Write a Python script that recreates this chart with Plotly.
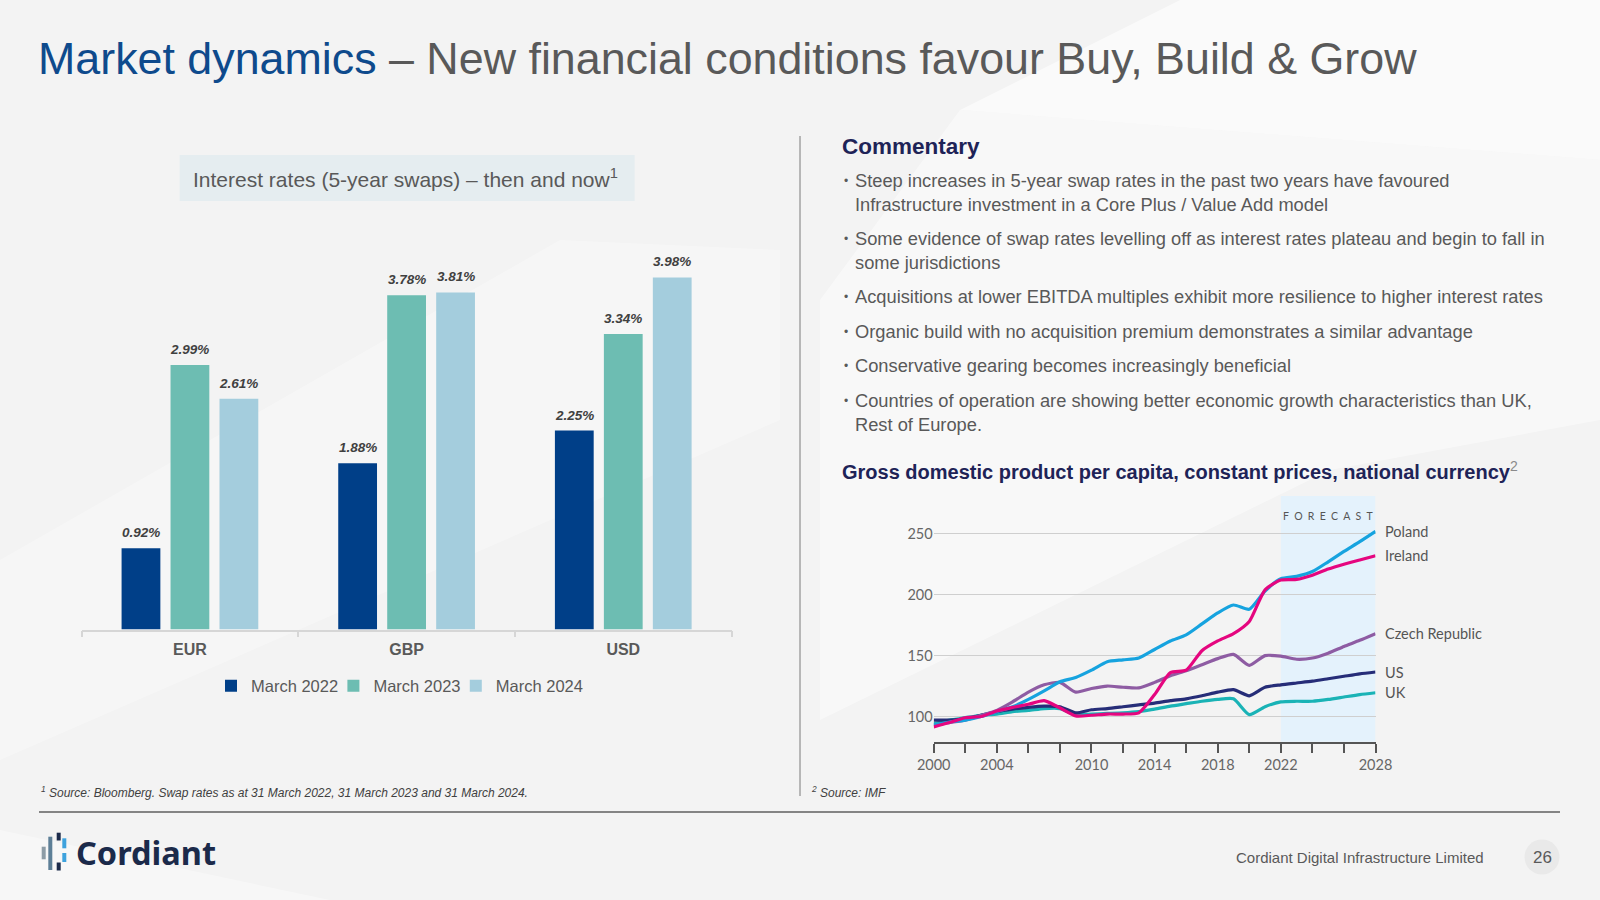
import plotly.graph_objects as go

# ---------------- data ----------------
currencies = ["EUR", "GBP", "USD"]
bar_series = ["March 2022", "March 2023", "March 2024"]
rate_mar_2022 = [0.92, 1.88, 2.25]
rate_mar_2023 = [2.99, 3.78, 3.34]
rate_mar_2024 = [2.61, 3.81, 3.98]

years = list(range(2000, 2029))
gdp_poland = [93, 95.5, 97, 100, 104, 108, 114, 121, 128.5, 132, 138, 145, 146.5, 148, 155, 162,
              167, 176, 185, 191.5, 188, 203, 213, 215, 219, 227, 235.5, 243.5, 252]
gdp_ireland = [91.5, 95, 99, 100, 104.5, 107.5, 110, 113, 107, 100.5, 101, 102, 102, 103, 118, 136,
               138, 154, 162, 168, 178, 204, 212, 212.5, 216, 221, 225, 228.5, 232]
gdp_czech = [93, 95, 97, 101, 105, 112, 120, 126, 128, 120, 123, 125, 124, 123.5, 128, 133.5,
             137.5, 142.5, 147.5, 151, 142, 150, 149.5, 147, 148, 152, 157.5, 162.5, 168]
gdp_us = [97, 97, 98, 101, 104, 106, 107.5, 108.5, 108, 103, 105.5, 106.5, 108, 109.5, 111, 113,
          114.5, 117, 120, 122, 117, 124, 126, 127.5, 129, 131, 133, 135, 136.5]
gdp_uk = [94, 97, 99, 101, 102, 104, 105, 106.5, 106.5, 101.5, 102, 102.5, 103, 104, 106, 108.5,
          110.5, 112.5, 114, 114.5, 101.5, 108, 112, 112.5, 112.5, 114, 116, 118, 119.5]
gdp_names = ["UK", "US", "Czech Republic", "Poland", "Ireland"]
gdp_values = [gdp_uk, gdp_us, gdp_czech, gdp_poland, gdp_ireland]
forecast_start, forecast_end = 2022, 2028
x_labelled_years = [2000, 2004, 2010, 2014, 2018, 2022, 2028]
x_minor_step = 2
y_ticks = [100, 150, 200, 250]

bullets = [
    "Steep increases in 5-year swap rates in the past two years have favoured<br>Infrastructure investment in a Core Plus / Value Add model",
    "Some evidence of swap rates levelling off as interest rates plateau and begin to fall in<br>some jurisdictions",
    "Acquisitions at lower EBITDA multiples exhibit more resilience to higher interest rates",
    "Organic build with no acquisition premium demonstrates a similar advantage",
    "Conservative gearing becomes increasingly beneficial",
    "Countries of operation are showing better economic growth characteristics than UK,<br>Rest of Europe.",
]

# ---------------- style ----------------
W, H = 1600, 900
bar_colors = ["#003f88", "#6dbdb2", "#a4cddd"]
line_colors = {"Poland": "#16a3df", "Ireland": "#e5067f", "Czech Republic": "#8e5ca3",
               "US": "#262d78", "UK": "#1ab3b6"}
GRAY = "#595959"
ARIAL = "Liberation Sans, Arial, sans-serif"
GEO = "Lato, Noto Sans, sans-serif"
BARGAP, BARGROUPGAP = 0.322, 0.208
BAR_X0, BAR_X1 = 81.6, 731.6   # bar plot area, px
LEGEND_IDS = ["legend", "legend2", "legend3"]
LEGEND_X = [211, 333.4, 455.8]  # left edge of each legend entry, px


def px(x):
    return x / W


def py(y):
    return 1 - y / H


fig = go.Figure()

bar_sets = [rate_mar_2022, rate_mar_2023, rate_mar_2024]
for name, vals, col, lid in zip(bar_series, bar_sets, bar_colors, LEGEND_IDS):
    fig.add_trace(go.Bar(
        x=currencies, y=vals, name=name, marker=dict(color=col, line=dict(width=0)),
        xaxis="x", yaxis="y", hoverinfo="skip", legend=lid,
    ))

for name, vals in zip(gdp_names, gdp_values):
    fig.add_trace(go.Scatter(
        x=years, y=vals, mode="lines", name=name, showlegend=False,
        line=dict(color=line_colors[name], width=3.2, shape="spline", smoothing=0.6),
        xaxis="x2", yaxis="y2", hoverinfo="skip",
    ))

shapes = []
# subtle background facets
shapes += [
    dict(type="path", xref="paper", yref="paper", layer="below", line=dict(width=0),
         fillcolor="rgba(255,255,255,0.55)",
         path=f"M {px(1180)},{py(0)} L {px(1600)},{py(0)} L {px(1600)},{py(160)} L {px(960)},{py(110)} Z"),
    dict(type="path", xref="paper", yref="paper", layer="below", line=dict(width=0),
         fillcolor="rgba(255,255,255,0.45)",
         path=f"M {px(820)},{py(720)} L {px(1330)},{py(470)} L {px(1600)},{py(420)} L {px(1600)},{py(160)} L {px(960)},{py(110)} L {px(820)},{py(300)} Z"),
    dict(type="path", xref="paper", yref="paper", layer="below", line=dict(width=0),
         fillcolor="rgba(255,255,255,0.3)",
         path=f"M {px(0)},{py(560)} L {px(560)},{py(240)} L {px(780)},{py(250)} L {px(780)},{py(420)} L {px(0)},{py(760)} Z"),
    dict(type="path", xref="paper", yref="paper", layer="below", line=dict(width=0),
         fillcolor="rgba(255,255,255,0.35)",
         path=f"M {px(0)},{py(830)} L {px(330)},{py(900)} L {px(0)},{py(900)} Z"),
]
# chart title box (bar chart)
shapes.append(dict(type="rect", xref="paper", yref="paper", layer="below",
                   x0=px(179.6), x1=px(634.7), y0=py(155), y1=py(201),
                   fillcolor="#e5edf0", line=dict(width=0)))
# forecast band
shapes.append(dict(type="rect", xref="x2", yref="y2 domain", layer="below",
                   x0=forecast_start, x1=forecast_end, y0=0, y1=1,
                   fillcolor="#e4f2fc", line=dict(width=0)))
# divider and footer rule
shapes.append(dict(type="line", xref="paper", yref="paper", x0=px(800), x1=px(800),
                   y0=py(136), y1=py(796), line=dict(color="#7a7a7a", width=1)))
shapes.append(dict(type="line", xref="paper", yref="paper", x0=px(39), x1=px(1560),
                   y0=py(812), y1=py(812), line=dict(color="#5f5f5f", width=1.5)))
# page number circle
shapes.append(dict(type="circle", xref="paper", yref="paper", x0=px(1524.5), x1=px(1559.5),
                   y0=py(874.5), y1=py(839.5), fillcolor="#e9e9e9", line=dict(width=0)))
# logo mark
for (x0, x1, y0, y1, c) in [
    (41.7, 45.7, 846.7, 859.3, "#8d9ca6"),
    (48.3, 52.3, 836.7, 870.0, "#5d7f97"),
    (56.7, 60.7, 832.7, 840.5, "#1b2a4a"),
    (56.7, 60.7, 862.5, 870.5, "#1b2a4a"),
    (62.3, 66.3, 838.3, 848.3, "#3ea2dd"),
    (62.3, 66.3, 853.0, 862.0, "#3ea2dd"),
]:
    shapes.append(dict(type="rect", xref="paper", yref="paper", x0=px(x0), x1=px(x1),
                       y0=py(y1), y1=py(y0), fillcolor=c, line=dict(width=0), layer="above"))

ann = []
# bar value labels: placed at each bar's value, offset to its slot in the group
cat_px = (BAR_X1 - BAR_X0) / len(currencies)
slot_px = cat_px * (1 - BARGAP) / len(bar_series)
for k, vals in enumerate(bar_sets):
    for cat, v in zip(currencies, vals):
        ann.append(dict(xref="x", yref="y", x=cat, y=v, xanchor="center", yanchor="bottom",
                        xshift=(k - (len(bar_series) - 1) / 2) * slot_px, yshift=6, showarrow=False,
                        font=dict(family=ARIAL, size=13.5, color="#404040", style="italic",
                                  weight="bold"),
                        text=f"{v:.2f}%"))
# main title
ann.append(dict(xref="paper", yref="paper", x=px(36), y=py(58), xanchor="left", yanchor="middle",
                showarrow=False, font=dict(family=ARIAL, size=44.8, color=GRAY),
                text="<span style='color:#0e4a8c'>Market dynamics</span> – New financial conditions favour Buy, Build & Grow"))
ann.append(dict(xref="paper", yref="paper", x=px(405), y=py(178), xanchor="center", yanchor="middle",
                showarrow=False, font=dict(family=ARIAL, size=21, color=GRAY),
                text="Interest rates (5-year swaps) – then and now<sup>1</sup>"))
ann.append(dict(xref="paper", yref="paper", x=px(840), y=py(146), xanchor="left", yanchor="middle",
                showarrow=False, font=dict(family=ARIAL, size=22.5, color="#1e2357", weight="bold"),
                text="Commentary"))
first_line_y = [180.6, 238.8, 297, 331.6, 366.3, 401]
bsize = 18.3
for txt, yc in zip(bullets, first_line_y):
    ann.append(dict(xref="paper", yref="paper", x=px(853), y=py(yc - 0.65 * bsize - 1),
                    xanchor="left", yanchor="top", align="left", showarrow=False,
                    font=dict(family=ARIAL, size=bsize, color=GRAY), text=txt))
    ann.append(dict(xref="paper", yref="paper", x=px(846), y=py(yc), xanchor="center", yanchor="middle",
                    showarrow=False, font=dict(family=ARIAL, size=12, color=GRAY), text="•"))
ann.append(dict(xref="paper", yref="paper", x=px(840), y=py(470.5), xanchor="left", yanchor="middle",
                showarrow=False, font=dict(family=ARIAL, size=20, color="#1e2357"),
                text="<b>Gross domestic product per capita, constant prices, national currency</b>"
                     "<sup><span style='color:#8a8a8a'>2</span></sup>"))
# forecast label
ann.append(dict(xref="x2", yref="paper", x=(forecast_start + forecast_end) / 2, y=py(516),
                xanchor="center", yanchor="middle", showarrow=False,
                font=dict(family=GEO, size=10.5, color="#555555"),
                text="\u2002".join("FORECAST")))
# series end labels
for name, vals in zip(gdp_names, gdp_values):
    ann.append(dict(xref="x2", yref="y2", x=years[-1], y=vals[-1], xanchor="left", yanchor="middle",
                    xshift=7, showarrow=False, font=dict(family=GEO, size=14.5, color="#555555"),
                    text=name))
# footnotes
ann.append(dict(xref="paper", yref="paper", x=px(39), y=py(792), xanchor="left", yanchor="middle",
                showarrow=False, font=dict(family=ARIAL, size=12, color="#404040"),
                text="<i><sup>1</sup> Source: Bloomberg. Swap rates as at 31 March 2022, 31 March 2023 and 31 March 2024.</i>"))
ann.append(dict(xref="paper", yref="paper", x=px(809), y=py(792), xanchor="left", yanchor="middle",
                showarrow=False, font=dict(family=ARIAL, size=12, color="#404040"),
                text="<i><sup>2</sup> Source: IMF</i>"))
# footer
ann.append(dict(xref="paper", yref="paper", x=px(74), y=py(852), xanchor="left", yanchor="middle",
                showarrow=False, font=dict(family="Noto Sans, Lato, sans-serif", size=32.5,
                                           color="#1b2a4a", weight="bold"),
                text="Cordiant"))
ann.append(dict(xref="paper", yref="paper", x=px(1486), y=py(857), xanchor="right", yanchor="middle",
                showarrow=False, font=dict(family=ARIAL, size=15, color=GRAY),
                text="Cordiant Digital Infrastructure Limited"))
ann.append(dict(xref="paper", yref="paper", x=px(1542), y=py(857), xanchor="center", yanchor="middle",
                showarrow=False, font=dict(family=ARIAL, size=17, color=GRAY), text="26"))

legend_style = dict(orientation="h", xanchor="left", y=py(686), yanchor="middle",
                    font=dict(family=ARIAL, size=16.5, color=GRAY), bgcolor="rgba(0,0,0,0)",
                    itemwidth=30, borderwidth=0)
legends = {lid: dict(legend_style, x=px(lx)) for lid, lx in zip(LEGEND_IDS, LEGEND_X)}

fig.update_layout(
    width=W, height=H, autosize=False,
    margin=dict(l=0, r=0, t=0, b=0, pad=0, autoexpand=False),
    paper_bgcolor="#f3f3f3", plot_bgcolor="rgba(0,0,0,0)",
    barmode="group", bargap=BARGAP, bargroupgap=BARGROUPGAP,
    showlegend=True,
    **legends,
    xaxis=dict(domain=[px(BAR_X0), px(BAR_X1)], type="category", range=[-0.5, 2.5],
               showline=True, linecolor="#d6d6d6", linewidth=1.5, automargin=False,
               ticks="outside", tickson="boundaries", ticklen=6, tickcolor="#d6d6d6", tickwidth=1.5,
               tickfont=dict(family=ARIAL, size=16, color=GRAY, weight="bold"),
               ticklabelstandoff=4, showgrid=False, zeroline=False, fixedrange=True),
    yaxis=dict(domain=[py(629.6), py(250)], range=[0, 4.29], visible=False, fixedrange=True,
               automargin=False),
    xaxis2=dict(domain=[px(933.7), px(1375.5)], range=[years[0], years[-1]], anchor="y2",
                automargin=False, tickmode="array", tickvals=x_labelled_years,
                ticks="outside", ticklen=9, tickwidth=2, tickcolor="#555555",
                minor=dict(tick0=years[0], dtick=x_minor_step, ticks="outside", ticklen=9,
                           tickwidth=2, tickcolor="#555555", showgrid=False),
                showline=True, linecolor="#555555", linewidth=2,
                showgrid=False, zeroline=False,
                tickfont=dict(family=GEO, size=14.5, color="#666666")),
    yaxis2=dict(domain=[py(741.7), py(496)], range=[79.3, 281], anchor="x2", automargin=False,
                tickvals=y_ticks, showgrid=True, gridcolor="#cfcfcf", gridwidth=1,
                zeroline=False, showline=False, ticks="",
                tickfont=dict(family=GEO, size=14.5, color="#666666")),
    shapes=shapes, annotations=ann,
)

fig.write_html("out.html", config={"displayModeBar": False},
               post_script="document.body.style.margin='0';document.body.style.overflow='hidden';")
